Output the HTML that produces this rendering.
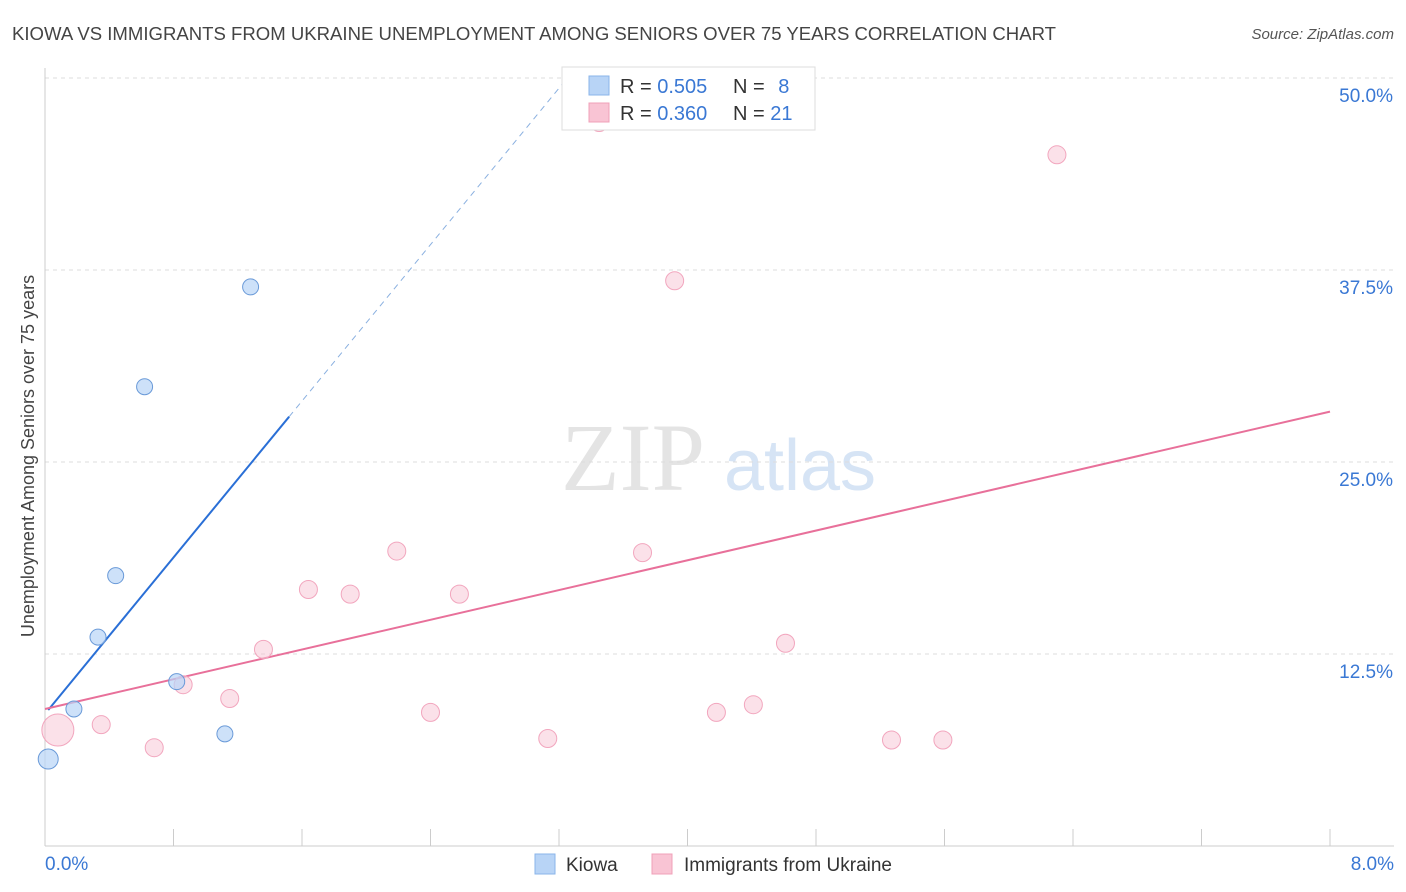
<!DOCTYPE html>
<html><head><meta charset="utf-8"><style>
body{margin:0;background:#fff;font-family:"Liberation Sans",sans-serif;}
svg{display:block}
</style></head><body>
<svg id="chart" width="1406" height="892">
<text x="12" y="40" font-size="18" fill="#444" textLength="1044" lengthAdjust="spacingAndGlyphs">KIOWA VS IMMIGRANTS FROM UKRAINE UNEMPLOYMENT AMONG SENIORS OVER 75 YEARS CORRELATION CHART</text>
<text x="1394" y="39" font-size="15" fill="#555" font-style="italic" text-anchor="end">Source: ZipAtlas.com</text>
<text x="633" y="490" font-size="96" fill="#e4e4e4" font-family="Liberation Serif,serif" text-anchor="middle">ZIP</text>
<text x="800" y="490" font-size="72" fill="#d6e4f5" text-anchor="middle">atlas</text>
<text transform="translate(34,456) rotate(-90)" font-size="18" fill="#444" text-anchor="middle">Unemployment Among Seniors over 75 years</text>
<g id="grid"></g><g id="lines"></g><g id="pts"></g>
<g>
<rect x="562" y="67" width="253" height="63" fill="#fff" stroke="#ddd"/>
<rect x="589" y="76" width="20" height="19" fill="#b8d4f6" stroke="#8ab4ea"/>
<text x="620" y="93" font-size="20" fill="#333">R = <tspan fill="#3a78d4">0.505</tspan></text>
<text x="733" y="93" font-size="20" fill="#333">N = <tspan fill="#3a78d4" dx="8">8</tspan></text>
<rect x="589" y="103" width="20" height="19" fill="#f9c4d4" stroke="#f0a0b8"/>
<text x="620" y="120" font-size="20" fill="#333">R = <tspan fill="#3a78d4">0.360</tspan></text>
<text x="733" y="120" font-size="20" fill="#333">N = <tspan fill="#3a78d4">21</tspan></text>
</g>
<g>
<rect x="535" y="854" width="20" height="20" fill="#b8d4f6" stroke="#8ab4ea"/>
<text x="566" y="871" font-size="19" fill="#333">Kiowa</text>
<rect x="652" y="854" width="20" height="20" fill="#f9c4d4" stroke="#f0a0b8"/>
<text x="684" y="871" font-size="19" fill="#333">Immigrants from Ukraine</text>
</g>
</svg>
<script>
const yTicks=[12.5,25,37.5,50];
const yTickLabels=["12.5%","25.0%","37.5%","50.0%"];
const xTickLabels=["0.0%","8.0%"];
const kiowaX=[0.02,0.18,0.33,0.44,0.62,0.82,1.12,1.28];
const kiowaY=[5.66,8.92,13.6,17.6,29.9,10.7,7.3,36.4];
const ukrX=[0.08,0.35,0.68,0.86,1.15,1.36,1.64,1.90,2.19,2.40,2.58,3.13,3.45,3.72,3.92,4.18,4.41,4.61,5.27,5.59,6.30];
const ukrY=[7.55,7.9,6.4,10.5,9.6,12.8,16.7,16.4,19.2,8.7,16.4,7.0,47.1,19.1,36.8,8.7,9.2,13.2,6.9,6.9,45.0];
const kiowaTrend=[8.6,12.73]; // intercept, slope
const ukrTrend=[8.92,2.42];
const NS="http://www.w3.org/2000/svg";
const X=v=>45+v/8*1285, Y=v=>846-v/12.5*192;
function mk(p,t,a){const e=document.createElementNS(NS,t);for(const k in a)e.setAttribute(k,a[k]);document.getElementById(p).appendChild(e);return e;}
yTicks.forEach((t,i)=>{
 let l=mk('grid','line',{x1:45,x2:1394,y1:Y(t),y2:Y(t),stroke:'#ddd','stroke-dasharray':'4,4'});
 
 
 let tx=mk('grid','text',{x:1393,y:Y(t)+24,'font-size':19,fill:'#3a78d4','text-anchor':'end'});tx.textContent=yTickLabels[i];
 
 
});
mk('grid','line',{x1:45,x2:45,y1:68,y2:846,stroke:'#ccc'});
let ax=mk('grid','line',{x1:45,x2:1394,y1:846,y2:846,stroke:'#ccc'});


for(let i=1;i<=10;i++){mk('grid','line',{x1:X(i*0.8),x2:X(i*0.8),y1:829,y2:846,stroke:'#ccc'});}
let t0=mk('grid','text',{x:45,y:870,'font-size':19,fill:'#3a78d4'});t0.textContent=xTickLabels[0];


let t1=mk('grid','text',{x:1394,y:870,'font-size':19,fill:'#3a78d4','text-anchor':'end'});t1.textContent=xTickLabels[1];


let L=mk('lines','line',{x1:X(0.02),y1:Y(kiowaTrend[0]+kiowaTrend[1]*0.02),x2:X(1.52),y2:Y(kiowaTrend[0]+kiowaTrend[1]*1.52),stroke:'#2a6fd6','stroke-width':2});


let D=mk('lines','line',{x1:X(1.52),y1:Y(kiowaTrend[0]+kiowaTrend[1]*1.52),x2:X(3.22),y2:Y(kiowaTrend[0]+kiowaTrend[1]*3.22),stroke:'#8ab0e0','stroke-width':1,'stroke-dasharray':'6,5'});


let P=mk('lines','line',{x1:X(0),y1:Y(ukrTrend[0]),x2:X(8),y2:Y(ukrTrend[0]+ukrTrend[1]*8),stroke:'#e8709a','stroke-width':2});


ukrX.forEach((x,i)=>{let c=mk('pts','circle',{cx:X(x),cy:Y(ukrY[i]),r:i==0?16:9,fill:'rgba(248,196,212,0.5)',stroke:'#f2a6be'});
 
 });
kiowaX.forEach((x,i)=>{let c=mk('pts','circle',{cx:X(x),cy:Y(kiowaY[i]),r:i==0?10:8,fill:'rgba(184,212,246,0.7)',stroke:'#6a9ad8'});
 
 });
</script>
</body></html>
